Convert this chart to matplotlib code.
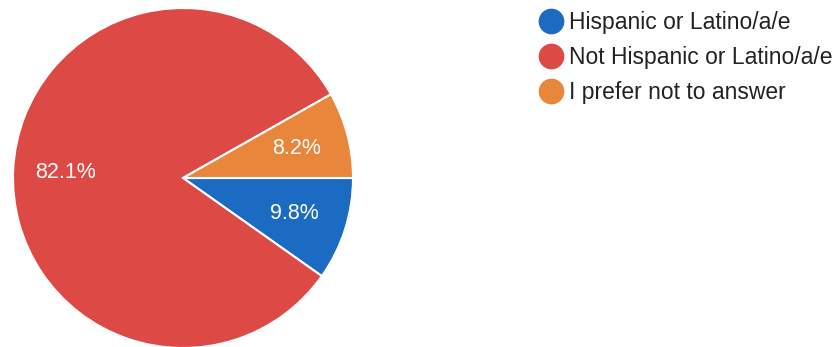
import matplotlib.pyplot as plt
from matplotlib.lines import Line2D

labels = ["Hispanic or Latino/a/e", "Not Hispanic or Latino/a/e", "I prefer not to answer"]
shares = [9.8, 82.1, 8.2]
colors = ["#1b6bc2", "#dd4a45", "#e8863c"]

W, H = 839, 347
fig = plt.figure(figsize=(W / 100, H / 100), dpi=100)
plt.rcParams['font.family'] = ['Liberation Sans', 'DejaVu Sans']

# pie centred near (183, 178) px, radius ~170 px
cx, cy, r = 183, 178, 170
ax = fig.add_axes([(cx - r) / W, (H - cy - r) / H, 2 * r / W, 2 * r / H])

# the published percentages add up to 100.1, so show them as given
shown = iter(shares)
wedges, texts, autotexts = ax.pie(
    shares, colors=colors, startangle=0, counterclock=False,
    autopct=lambda p: f"{next(shown):.1f}%", pctdistance=0.69,
    wedgeprops=dict(edgecolor="white", linewidth=1.5),
    textprops=dict(color="white", fontsize=15.5))
ax.set_xlim(-1, 1)
ax.set_ylim(-1, 1)
ax.set_aspect("equal")
ax.axis("off")

handles = [Line2D([], [], marker="o", linestyle="none", markersize=17.5,
                  markerfacecolor=c, markeredgecolor=c) for c in colors]
fig.legend(handles, labels, loc="upper left",
           bbox_to_anchor=(530 / W, 1 - 2 / H), frameon=False,
           fontsize=16.5, labelspacing=0.52, handletextpad=0.3,
           handlelength=1.0, borderaxespad=0, labelcolor="#222222")

fig.savefig("out.png", dpi=100)
